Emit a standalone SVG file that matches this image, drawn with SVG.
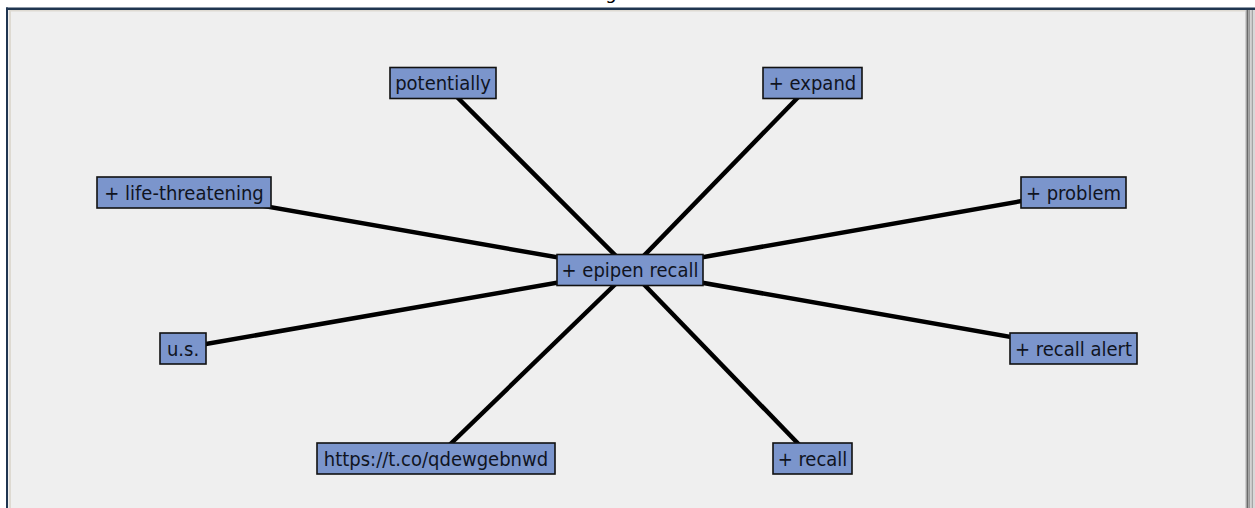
<svg xmlns="http://www.w3.org/2000/svg" width="1255" height="508" viewBox="0 0 1255 508">
<style>
.node rect{fill:#7b95cc;stroke:#111;stroke-width:1.6}
.node text{font-family:"DejaVu Sans Condensed","DejaVu Sans",sans-serif;font-stretch:condensed;font-size:20px;fill:#10141f;text-anchor:middle}
.edge{stroke:#000;stroke-width:4.5;stroke-linecap:butt}
</style>
<rect x="0" y="0" width="1255" height="508" fill="#ffffff"/>
<rect x="6" y="8" width="1249" height="500" fill="#efefef"/>
<text x="611" y="-1" font-family="DejaVu Sans, sans-serif" font-size="18" text-anchor="middle" fill="#000">g</text>
<rect x="6" y="7.5" width="1249" height="2.5" fill="#1f3550"/>
<rect x="6" y="7.5" width="2" height="500.5" fill="#1f3550"/>
<rect x="9" y="10" width="2" height="498" fill="#dedad2"/>
<rect x="9" y="10" width="1236" height="1.5" fill="#dedad2"/>
<rect x="1245" y="10" width="1.5" height="498" fill="#cfcfcf"/>
<rect x="1246.5" y="10" width="1.7" height="498" fill="#6a6a6a"/>
<rect x="1248.2" y="10" width="2" height="498" fill="#9a9a9a"/>
<rect x="1250.2" y="10" width="1.5" height="498" fill="#d0d0d0"/>
<rect x="1251.7" y="10" width="1.6" height="498" fill="#a5a5a5"/>
<rect x="1253.3" y="10" width="1.7" height="498" fill="#d8d8d8"/>
<g id="connectors">
<line class="edge" x1="630" y1="270" x2="443" y2="83"/>
<line class="edge" x1="630" y1="270" x2="812" y2="83"/>
<line class="edge" x1="630" y1="270" x2="184" y2="192"/>
<line class="edge" x1="630" y1="270" x2="1073" y2="192"/>
<line class="edge" x1="630" y1="270" x2="183" y2="348"/>
<line class="edge" x1="630" y1="270" x2="1073" y2="348"/>
<line class="edge" x1="630" y1="270" x2="436" y2="458"/>
<line class="edge" x1="630" y1="270" x2="812" y2="458"/>
</g>
<g id="n-potentially" class="node"><rect x="390" y="67.5" width="106" height="31"/><text x="443" y="90">potentially</text></g>
<g id="n-expand" class="node"><rect x="763" y="67.5" width="99" height="31"/><text x="812.5" y="90">+ expand</text></g>
<g id="n-life" class="node"><rect x="97" y="177" width="174" height="31"/><text x="184" y="199.5">+ life-threatening</text></g>
<g id="n-problem" class="node"><rect x="1021" y="177" width="105" height="31"/><text x="1073.5" y="199.5">+ problem</text></g>
<g id="n-epipen" class="node"><rect x="557" y="254.5" width="146" height="31"/><text x="630" y="277">+ epipen recall</text></g>
<g id="n-us" class="node"><rect x="160" y="333" width="46" height="31"/><text x="183" y="355.5">u.s.</text></g>
<g id="n-alert" class="node"><rect x="1010" y="333" width="127" height="31"/><text x="1073.5" y="355.5">+ recall alert</text></g>
<g id="n-https" class="node"><rect x="317" y="443" width="238" height="31"/><text x="436" y="465.5">https://t.co/qdewgebnwd</text></g>
<g id="n-recall" class="node"><rect x="773" y="443" width="79" height="31"/><text x="812.5" y="465.5">+ recall</text></g>
</svg>
